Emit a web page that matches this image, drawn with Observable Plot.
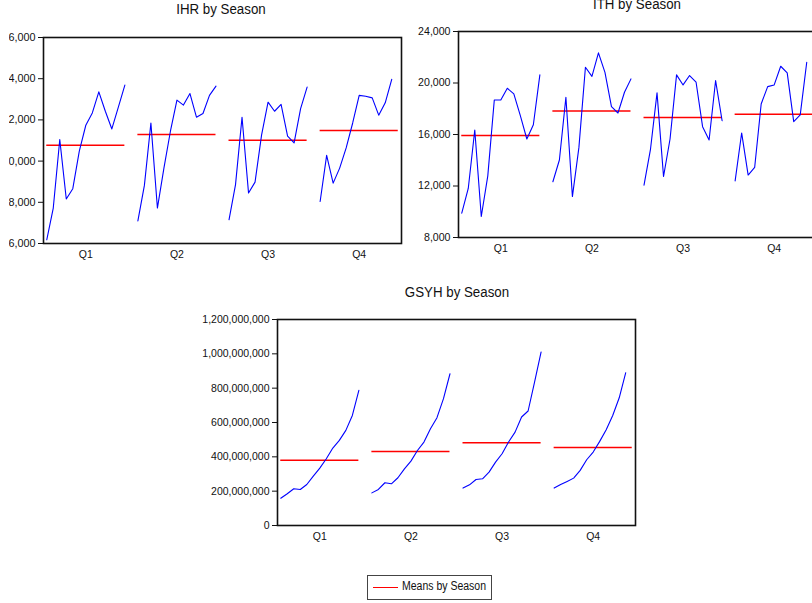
<!DOCTYPE html>
<html>
<head>
<meta charset="utf-8">
<script src="https://cdn.jsdelivr.net/npm/d3@7"></script>
<script src="https://cdn.jsdelivr.net/npm/@observablehq/plot@0.6"></script>
<style>
  html, body { margin: 0; padding: 0; background: #fff; }
  body { width: 812px; height: 603px; overflow: hidden; position: relative; font-family: "Liberation Sans", Arial, sans-serif; }
  .abs { position: absolute; }
  .title { position: absolute; width: 240px; text-align: center; font-size: 14px; line-height: 14px; color: #111; white-space: nowrap; transform: scaleX(0.95); transform-origin: center; }
  .plot-holder svg { max-width: none; display: block; }
</style>
</head>
<body>
<div id="ihrClip" class="abs" style="left:8.5px; top:0; width:420px; height:285px; overflow:hidden;">
  <div id="ihr" class="abs plot-holder"></div>
</div>
<div id="ith" class="abs plot-holder"></div>
<div id="gsyh" class="abs plot-holder"></div>
<div class="title" style="left:101px; top:2px;">IHR by Season</div>
<div class="title" style="left:517px; top:-3.5px;">ITH by Season</div>
<div class="title" style="left:336.5px; top:284.5px;">GSYH by Season</div>
<div id="legend" class="abs" style="left:366.5px; top:575px; width:125px; height:24.5px; box-sizing:border-box; border:1px solid #444; background:#fff;">
  <div class="abs" style="left:5.5px; top:11px; width:24.5px; height:0; border-top:1px solid #ff0000;"></div>
  <div class="abs" style="left:34.5px; top:3.5px; font-size:12px; line-height:12px; color:#111; white-space:nowrap; transform:scaleX(0.875); transform-origin:left center;">Means by Season</div>
</div>
<script>
// ---- data ----
const seasons = ["Q1", "Q2", "Q3", "Q4"];

const ihrQ1 = [6180, 7720, 11050, 8160, 8660, 10480, 11740, 12340, 13360, 12420, 11560, 12620, 13690];
const ihrQ2 = [7100, 8820, 11850, 7720, 9660, 11450, 12960, 12720, 13280, 12130, 12310, 13190, 13640];
const ihrQ3 = [7150, 8860, 12130, 8450, 8980, 11260, 12860, 12420, 12750, 11210, 10880, 12550, 13590];
const ihrQ4 = [8040, 10280, 8930, 9660, 10640, 11850, 13190, 13150, 13070, 12230, 12830, 13970];
const ihrTicks = [6000, 8000, 10000, 12000, 14000, 16000];

const ithQ1 = [9890, 11810, 16350, 9630, 12790, 18680, 18680, 19590, 19150, 17460, 15650, 16760, 20630];
const ithQ2 = [12330, 14020, 18890, 11180, 15000, 21220, 20520, 22340, 20830, 18160, 17670, 19280, 20320];
const ithQ3 = [12070, 14870, 19230, 12740, 15650, 20630, 19850, 20580, 20060, 16610, 15570, 20190, 17070];
const ithQ4 = [12400, 16120, 12850, 13440, 18370, 19720, 19850, 21300, 20790, 17000, 17520, 21610];
const ithTicks = [8000, 12000, 16000, 20000, 24000];

const gsyhQ1 = [159e6, 185e6, 214e6, 210e6, 239e6, 288e6, 334e6, 389e6, 451e6, 496e6, 554e6, 641e6, 787e6];
const gsyhQ2 = [190e6, 210e6, 249e6, 243e6, 278e6, 330e6, 375e6, 437e6, 486e6, 564e6, 628e6, 739e6, 884e6];
const gsyhQ3 = [218e6, 237e6, 268e6, 272e6, 311e6, 369e6, 418e6, 486e6, 544e6, 632e6, 667e6, 836e6, 1011e6];
const gsyhQ4 = [218e6, 239e6, 257e6, 276e6, 321e6, 383e6, 428e6, 490e6, 558e6, 641e6, 744e6, 890e6];
const gsyhTicks = [0, 200e6, 400e6, 600e6, 800e6, 1000e6, 1200e6];

// ---- layout constants ----
const nYears = 13;          // slots per season block
const block = nYears + 1;   // one empty slot between seasons
const ML = 80, MR = 6, MT = 10, MB = 26;
const PW = 358, PH = 206;
const FONT = '"Liberation Sans", Arial, sans-serif';

function buildRows(series) {
  const rows = [];
  series.forEach((vals, s) => vals.forEach((v, i) => rows.push({season: seasons[s], x: s * block + i, value: v})));
  return rows;
}
function buildMeans(series) {
  return series.map((vals, s) => ({season: seasons[s], x1: s * block, x2: s * block + nYears - 1, mean: d3.mean(vals)}));
}

function panel(series, yDomain, yTicks, yFont) {
  const rows = buildRows(series);
  const means = buildMeans(series);
  const xTicks = seasons.map((s, i) => i * block + (nYears - 1) / 2);
  return Plot.plot({
    width: ML + PW + MR,
    height: MT + PH + MB,
    marginLeft: ML, marginRight: MR, marginTop: MT, marginBottom: MB,
    style: {fontFamily: FONT, fontSize: "10.5px", background: "transparent", color: "#111", overflow: "visible"},
    x: {domain: [-0.5, block * 3 + nYears - 0.5], axis: null},
    y: {domain: yDomain, axis: null},
    marks: [
      Plot.axisY({ticks: yTicks, tickFormat: d3.format(","), tickSize: 5, tickPadding: 3, label: null, stroke: "#111", fontSize: yFont}),
      Plot.axisX({ticks: xTicks, tickFormat: d => seasons[Math.round((d - (nYears - 1) / 2) / block)], tickSize: 0, tickPadding: 7, label: null}),
      Plot.ruleY(means, {y: "mean", x1: "x1", x2: "x2", stroke: "#ff0000", strokeWidth: 1.5}),
      Plot.line(rows, {x: "x", y: "value", z: "season", stroke: "#0000ff", strokeWidth: 1.1}),
      Plot.frame({stroke: "#111", strokeWidth: 1.6})
    ]
  });
}

function place(id, chart, frameLeft, frameTop, offsetLeft = 0) {
  const el = document.getElementById(id);
  el.style.left = (frameLeft - ML - offsetLeft) + "px";
  el.style.top = (frameTop - MT) + "px";
  el.appendChild(chart);
}

place("ihr", panel([ihrQ1, ihrQ2, ihrQ3, ihrQ4], [6000, 16000], ihrTicks, 10.8), 42.5, 36.5, 8.5);
place("ith", panel([ithQ1, ithQ2, ithQ3, ithQ4], [8000, 24000], ithTicks, 10.6), 458.3, 31);
place("gsyh", panel([gsyhQ1, gsyhQ2, gsyhQ3, gsyhQ4], [0, 1200e6], gsyhTicks, 10.5), 276.7, 319.3);
</script>
</body>
</html>
